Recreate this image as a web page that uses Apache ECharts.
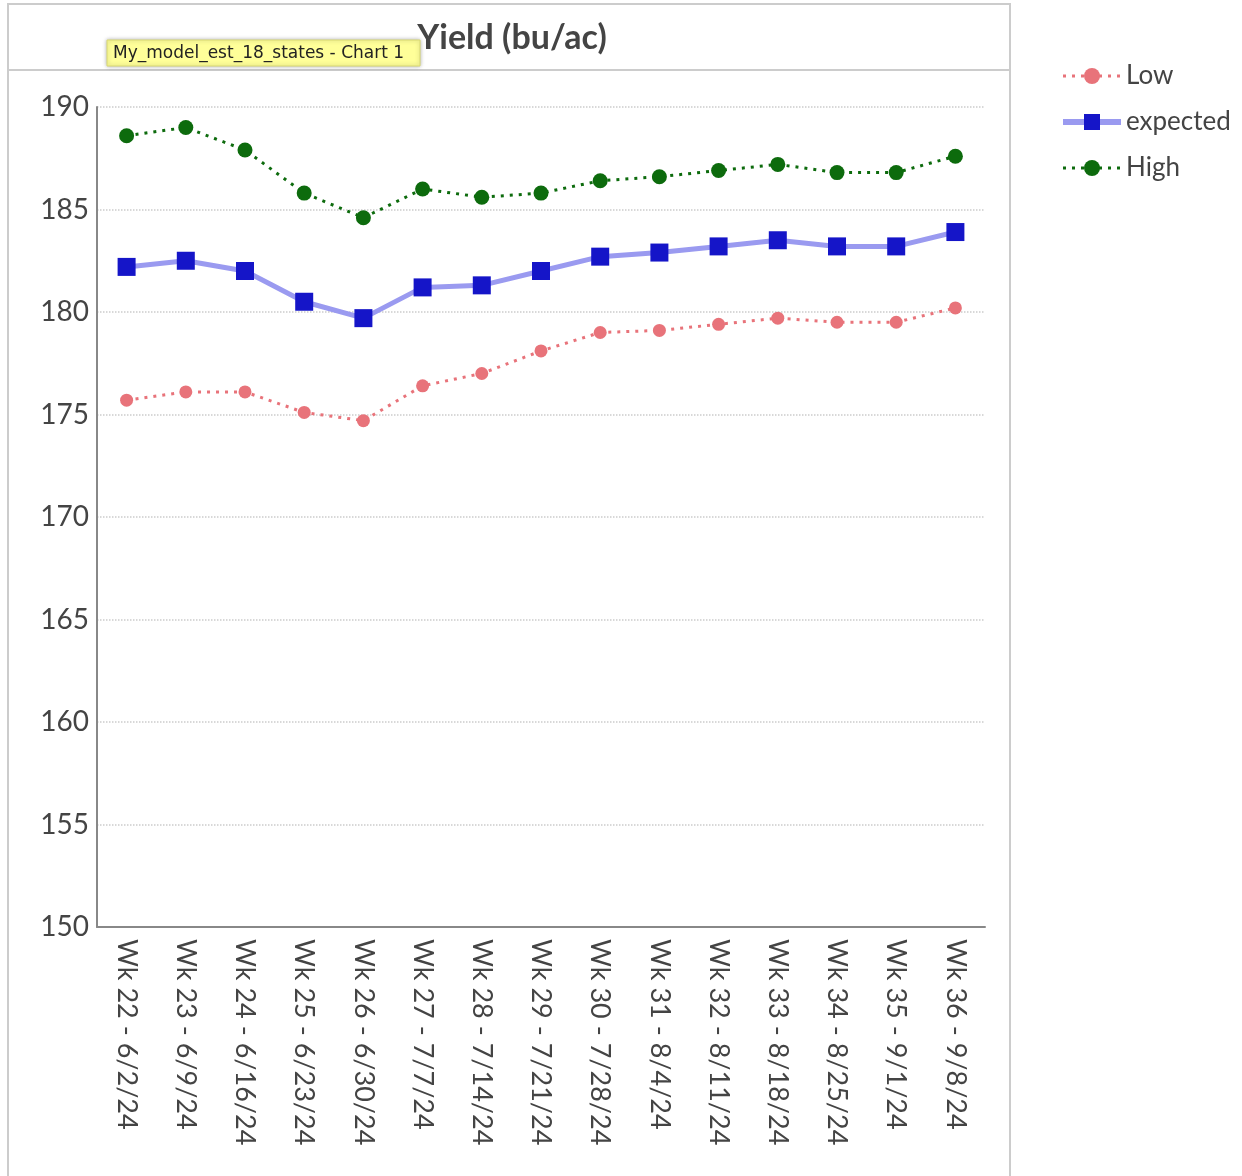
<!DOCTYPE html>
<html><head><meta charset="utf-8">
<script src="https://cdn.jsdelivr.net/npm/echarts@6/dist/echarts.min.js"></script>
<style>html,body{margin:0;background:#fff}#chart{width:1242px;height:1176px}</style>
</head><body><div id="chart"></div>
<script>
const weeks = ['Wk 22 - 6/2/24','Wk 23 - 6/9/24','Wk 24 - 6/16/24','Wk 25 - 6/23/24','Wk 26 - 6/30/24',
  'Wk 27 - 7/7/24','Wk 28 - 7/14/24','Wk 29 - 7/21/24','Wk 30 - 7/28/24','Wk 31 - 8/4/24',
  'Wk 32 - 8/11/24','Wk 33 - 8/18/24','Wk 34 - 8/25/24','Wk 35 - 9/1/24','Wk 36 - 9/8/24']
const low = [175.7,176.1,176.1,175.1,174.7,176.4,177.0,178.1,179.0,179.1,179.4,179.7,179.5,179.5,180.2]
const expected = [182.2,182.5,182.0,180.5,179.7,181.2,181.3,182.0,182.7,182.9,183.2,183.5,183.2,183.2,183.9]
const high = [188.6,189.0,187.9,185.8,184.6,186.0,185.6,185.8,186.4,186.6,186.9,187.2,186.8,186.8,187.6]

let chart = echarts.init(document.getElementById('chart'))
const font = 'Lato'
const dots = [3, 6]
chart.setOption({
    textStyle: {fontFamily: font},
    title: {
        text: 'Yield (bu/ac)',
        left: 507, top: 16, textAlign: 'center',
        textStyle: {fontSize: 34, fontWeight: 'bold', color: '#444', fontFamily: font}
    },
    graphic: [
        {type: 'rect', shape: {x: 8, y: 4, width: 1002, height: 1180}, style: {fill: 'none', stroke: '#ccc', lineWidth: 2}},
        {type: 'line', shape: {x1: 8, y1: 70, x2: 1010, y2: 70}, style: {stroke: '#ccc', lineWidth: 2}},
        {type: 'rect', shape: {x: 107, y: 40, width: 313, height: 26}, style: {fill: '#ffff99', stroke: '#d8d870', shadowBlur: 4, shadowColor: 'rgba(0,0,0,0.3)'}},
        {type: 'text', x: 113, y: 45, style: {text: 'My_model_est_18_states - Chart 1', fontSize: 17, fill: '#222', fontFamily: 'DejaVu Sans'}}
    ],
    legend: {
        orient: 'vertical', left: 1055, top: 58, itemGap: 20,
        itemWidth: 58, itemHeight: 20,
        textStyle: {fontSize: 26, color: '#444'},
        data: [
            {name: 'Low', lineStyle: {width: 3, type: dots}},
            {name: 'expected', lineStyle: {width: 6}},
            {name: 'High', lineStyle: {width: 3, type: dots}}
        ]
    },
    grid: {left: 97, right: 257, top: 107, bottom: 249},
    xAxis: {
        type: 'category', data: weeks, boundaryGap: true,
        axisLine: {lineStyle: {color: '#888', width: 2}},
        axisTick: {show: false},
        axisLabel: {rotate: -90, fontSize: 27, color: '#444', margin: 12}
    },
    yAxis: {
        type: 'value', min: 150, max: 190, interval: 5,
        axisLine: {show: true, lineStyle: {color: '#888', width: 2}},
        axisLabel: {fontSize: 28, color: '#444', margin: 8},
        splitLine: {lineStyle: {color: '#ccc', type: 'dotted', width: 1.5}}
    },
    series: [
        {name: 'Low', type: 'line', data: low, symbol: 'circle', symbolSize: 13,
         itemStyle: {color: '#e8737a'}, lineStyle: {type: dots, width: 3, color: '#e8737a'}},
        {name: 'expected', type: 'line', data: expected, symbol: 'rect', symbolSize: 18,
         itemStyle: {color: '#1515c8'}, lineStyle: {width: 5, color: '#9a9af0'}},
        {name: 'High', type: 'line', data: high, symbol: 'circle', symbolSize: 15,
         itemStyle: {color: '#0d6b0d'}, lineStyle: {type: dots, width: 3, color: '#0d6b0d'}}
    ]
})
</script></body></html>
